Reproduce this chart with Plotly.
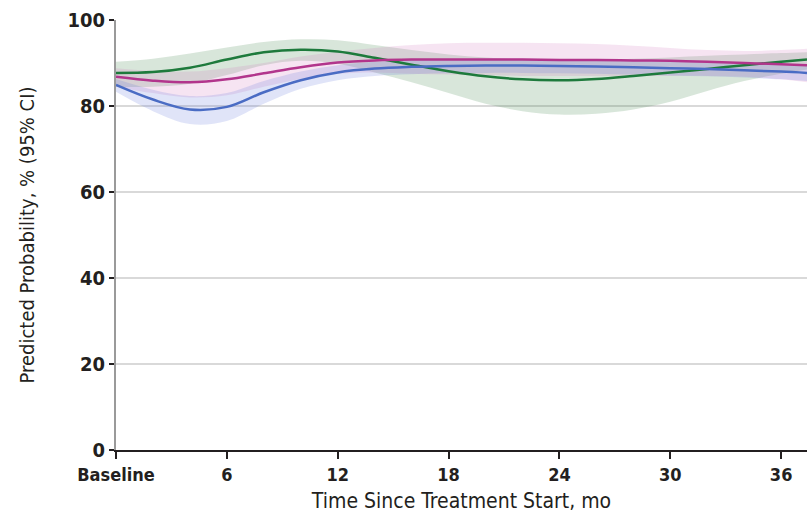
import plotly.graph_objects as go

months = [0, 2, 4, 6, 8, 10, 12, 14, 16, 18, 20, 22, 24, 26, 28, 30, 32, 34, 36, 37.4]

green = [87.7, 87.9, 88.9, 90.8, 92.5, 93.1, 92.7, 91.2, 89.6, 88.1, 86.9, 86.2, 86.0, 86.3, 87.0, 87.8, 88.6, 89.5, 90.3, 90.8]
green_hi = [90.3, 91.0, 92.2, 93.6, 94.9, 95.5, 95.3, 94.2, 93.0, 92.0, 91.3, 90.8, 90.6, 90.7, 91.0, 91.3, 91.7, 92.0, 92.3, 92.5]
green_lo = [84.5, 84.5, 85.2, 87.2, 89.5, 90.5, 89.8, 87.8, 85.5, 83.0, 80.5, 78.8, 78.0, 78.2, 79.2, 81.0, 83.5, 85.8, 87.5, 88.5]

magenta = [86.8, 85.9, 85.5, 86.2, 87.6, 89.0, 90.1, 90.6, 90.8, 90.8, 90.8, 90.8, 90.7, 90.7, 90.6, 90.5, 90.3, 90.0, 89.7, 89.5]
magenta_hi = [88.8, 88.2, 88.0, 88.8, 90.0, 91.5, 92.6, 93.5, 94.2, 94.6, 94.7, 94.7, 94.6, 94.4, 94.0, 93.5, 93.0, 92.8, 93.0, 93.3]
magenta_lo = [84.5, 83.0, 82.0, 82.5, 84.5, 86.3, 87.5, 87.8, 87.5, 87.3, 87.2, 87.0, 87.0, 87.0, 87.0, 87.0, 87.0, 86.8, 86.2, 85.5]

blue = [84.9, 81.5, 79.2, 79.8, 83.2, 86.0, 87.8, 88.7, 89.1, 89.3, 89.4, 89.4, 89.3, 89.2, 89.0, 88.8, 88.6, 88.3, 88.0, 87.7]
blue_hi = [86.3, 83.8, 82.3, 83.0, 85.8, 88.0, 89.5, 90.3, 90.7, 90.9, 91.0, 91.0, 90.9, 90.8, 90.6, 90.4, 90.2, 90.0, 89.8, 89.5]
blue_lo = [83.3, 78.8, 75.8, 76.5, 80.5, 84.0, 86.0, 87.0, 87.4, 87.6, 87.7, 87.7, 87.6, 87.5, 87.3, 87.1, 86.9, 86.6, 86.2, 85.8]

x_tickvals = [0, 6, 12, 18, 24, 30, 36]
x_ticktext = ["Baseline", "6", "12", "18", "24", "30", "36"]
y_tickvals = [0, 20, 40, 60, 80, 100]

FONT = "DejaVu Sans Condensed, Liberation Sans Narrow, sans-serif"

series = [
    (green, green_hi, green_lo, "#1e7a3c", "rgba(60,130,70,0.20)"),
    (magenta, magenta_hi, magenta_lo, "#b2358c", "rgba(210,120,190,0.20)"),
    (blue, blue_hi, blue_lo, "#4a6cc4", "rgba(100,120,220,0.20)"),
]

fig = go.Figure()
for line, hi, lo, col, fill in series:
    fig.add_trace(go.Scatter(x=months, y=hi, mode="lines", line=dict(width=0, shape="spline"),
                             showlegend=False, hoverinfo="skip"))
    fig.add_trace(go.Scatter(x=months, y=lo, mode="lines", line=dict(width=0, shape="spline"),
                             fill="tonexty", fillcolor=fill, showlegend=False, hoverinfo="skip"))
for line, hi, lo, col, fill in series:
    fig.add_trace(go.Scatter(x=months, y=line, mode="lines",
                             line=dict(color=col, width=2.5, shape="spline"), showlegend=False))

fig.update_layout(
    width=807, height=523,
    margin=dict(l=116, r=0, t=20, b=73),
    plot_bgcolor="white", paper_bgcolor="white",
    font=dict(family=FONT, color="#231f20"),
    xaxis=dict(
        range=[0, 37.4], tickvals=x_tickvals, ticktext=x_ticktext,
        showgrid=False, zeroline=False, showline=True, linecolor="#231f20", linewidth=2,
        ticks="outside", ticklen=7, tickwidth=2, tickcolor="#231f20",
        tickfont=dict(size=18, family=FONT, weight="bold"),
        title=dict(text="Time Since Treatment Start, mo", font=dict(size=21), standoff=10),
    ),
    yaxis=dict(
        range=[0, 100], tickvals=y_tickvals,
        showgrid=True, gridcolor="#d9d9d9", gridwidth=2,
        zeroline=False, showline=True, linecolor="#9a9a9a", linewidth=2,
        ticks="outside", ticklen=5, tickwidth=2, tickcolor="#231f20",
        tickfont=dict(size=20, family=FONT, weight="bold"),
        title=dict(text="Predicted Probability, % (95% CI)", font=dict(size=20), standoff=27),
    ),
)

fig.write_html("out.html")
